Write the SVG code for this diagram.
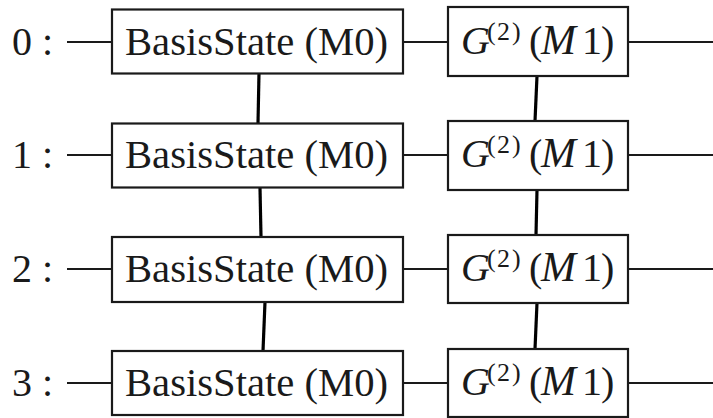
<svg xmlns="http://www.w3.org/2000/svg" width="713" height="418" viewBox="0 0 713 418">
  <style>
    .box { fill: #ffffff; stroke: #1a1a1a; stroke-width: 2.2; }
    .wire { stroke: #1a1a1a; stroke-width: 2; fill: none; }
    .link { stroke: #000000; stroke-width: 3.2; fill: none; }
  </style>
  <rect width="713" height="418" fill="#ffffff"/>

  <!-- qubit wires -->
  <g id="wires">
    <line class="wire" x1="67" y1="42" x2="112" y2="42"/>
    <line class="wire" x1="403" y1="42" x2="448" y2="42"/>
    <line class="wire" x1="628" y1="42" x2="713" y2="42"/>
    <line class="wire" x1="67" y1="155" x2="112" y2="155"/>
    <line class="wire" x1="403" y1="155" x2="448" y2="155"/>
    <line class="wire" x1="628" y1="155" x2="713" y2="155"/>
    <line class="wire" x1="67" y1="269" x2="112" y2="269"/>
    <line class="wire" x1="403" y1="269" x2="448" y2="269"/>
    <line class="wire" x1="628" y1="269" x2="713" y2="269"/>
    <line class="wire" x1="67" y1="383" x2="112" y2="383"/>
    <line class="wire" x1="403" y1="383" x2="448" y2="383"/>
    <line class="wire" x1="628" y1="383" x2="713" y2="383"/>
  </g>

  <!-- connectors between gates on neighbouring wires -->
  <g id="connectors">
    <line class="link" x1="259" y1="73" x2="258" y2="123"/>
    <line class="link" x1="260" y1="188" x2="261" y2="237"/>
    <line class="link" x1="265" y1="302" x2="263" y2="351"/>
    <line class="link" x1="537" y1="76" x2="535" y2="121"/>
    <line class="link" x1="537" y1="190" x2="536" y2="235"/>
    <line class="link" x1="537" y1="303" x2="535" y2="349"/>
  </g>

  <g style="font-family: 'Liberation Serif', serif; font-size: 40px; fill: #1a1a1a">
    <!-- wire labels -->
    <g id="label-0"><text x="12" y="55">0 :</text></g>
    <g id="label-1"><text x="12" y="168">1 :</text></g>
    <g id="label-2"><text x="12" y="282">2 :</text></g>
    <g id="label-3"><text x="12" y="396">3 :</text></g>

    <!-- BasisState gates -->
    <g id="basis-0">
      <rect class="box" x="112" y="9.5" width="291" height="64"/>
      <text x="125" y="55" textLength="263" lengthAdjust="spacingAndGlyphs">BasisState (M0)</text>
    </g>
    <g id="basis-1">
      <rect class="box" x="112" y="123.5" width="291" height="64"/>
      <text x="125" y="168" textLength="263" lengthAdjust="spacingAndGlyphs">BasisState (M0)</text>
    </g>
    <g id="basis-2">
      <rect class="box" x="112" y="237" width="291" height="65"/>
      <text x="125" y="282" textLength="263" lengthAdjust="spacingAndGlyphs">BasisState (M0)</text>
    </g>
    <g id="basis-3">
      <rect class="box" x="112" y="351" width="291" height="64"/>
      <text x="125" y="396" textLength="263" lengthAdjust="spacingAndGlyphs">BasisState (M0)</text>
    </g>

    <!-- G^(2)(M1) gates -->
    <g id="gate-0">
      <rect class="box" x="448" y="7" width="180" height="69"/>
      <text y="54"><tspan font-style="italic" x="461">G</tspan><tspan font-size="26" x="487 497 512" y="40">(2)</tspan><tspan x="529" y="54">(</tspan><tspan font-style="italic" font-size="42" x="541">M</tspan><tspan x="582 601">1)</tspan></text>
    </g>
    <g id="gate-1">
      <rect class="box" x="448" y="121" width="180" height="69"/>
      <text y="167"><tspan font-style="italic" x="461">G</tspan><tspan font-size="26" x="487 497 512" y="153">(2)</tspan><tspan x="529" y="167">(</tspan><tspan font-style="italic" font-size="42" x="541">M</tspan><tspan x="582 601">1)</tspan></text>
    </g>
    <g id="gate-2">
      <rect class="box" x="448" y="235" width="180" height="68"/>
      <text y="281"><tspan font-style="italic" x="461">G</tspan><tspan font-size="26" x="487 497 512" y="267">(2)</tspan><tspan x="529" y="281">(</tspan><tspan font-style="italic" font-size="42" x="541">M</tspan><tspan x="582 601">1)</tspan></text>
    </g>
    <g id="gate-3">
      <rect class="box" x="448" y="349" width="180" height="68"/>
      <text y="395"><tspan font-style="italic" x="461">G</tspan><tspan font-size="26" x="487 497 512" y="381">(2)</tspan><tspan x="529" y="395">(</tspan><tspan font-style="italic" font-size="42" x="541">M</tspan><tspan x="582 601">1)</tspan></text>
    </g>
  </g>
</svg>
